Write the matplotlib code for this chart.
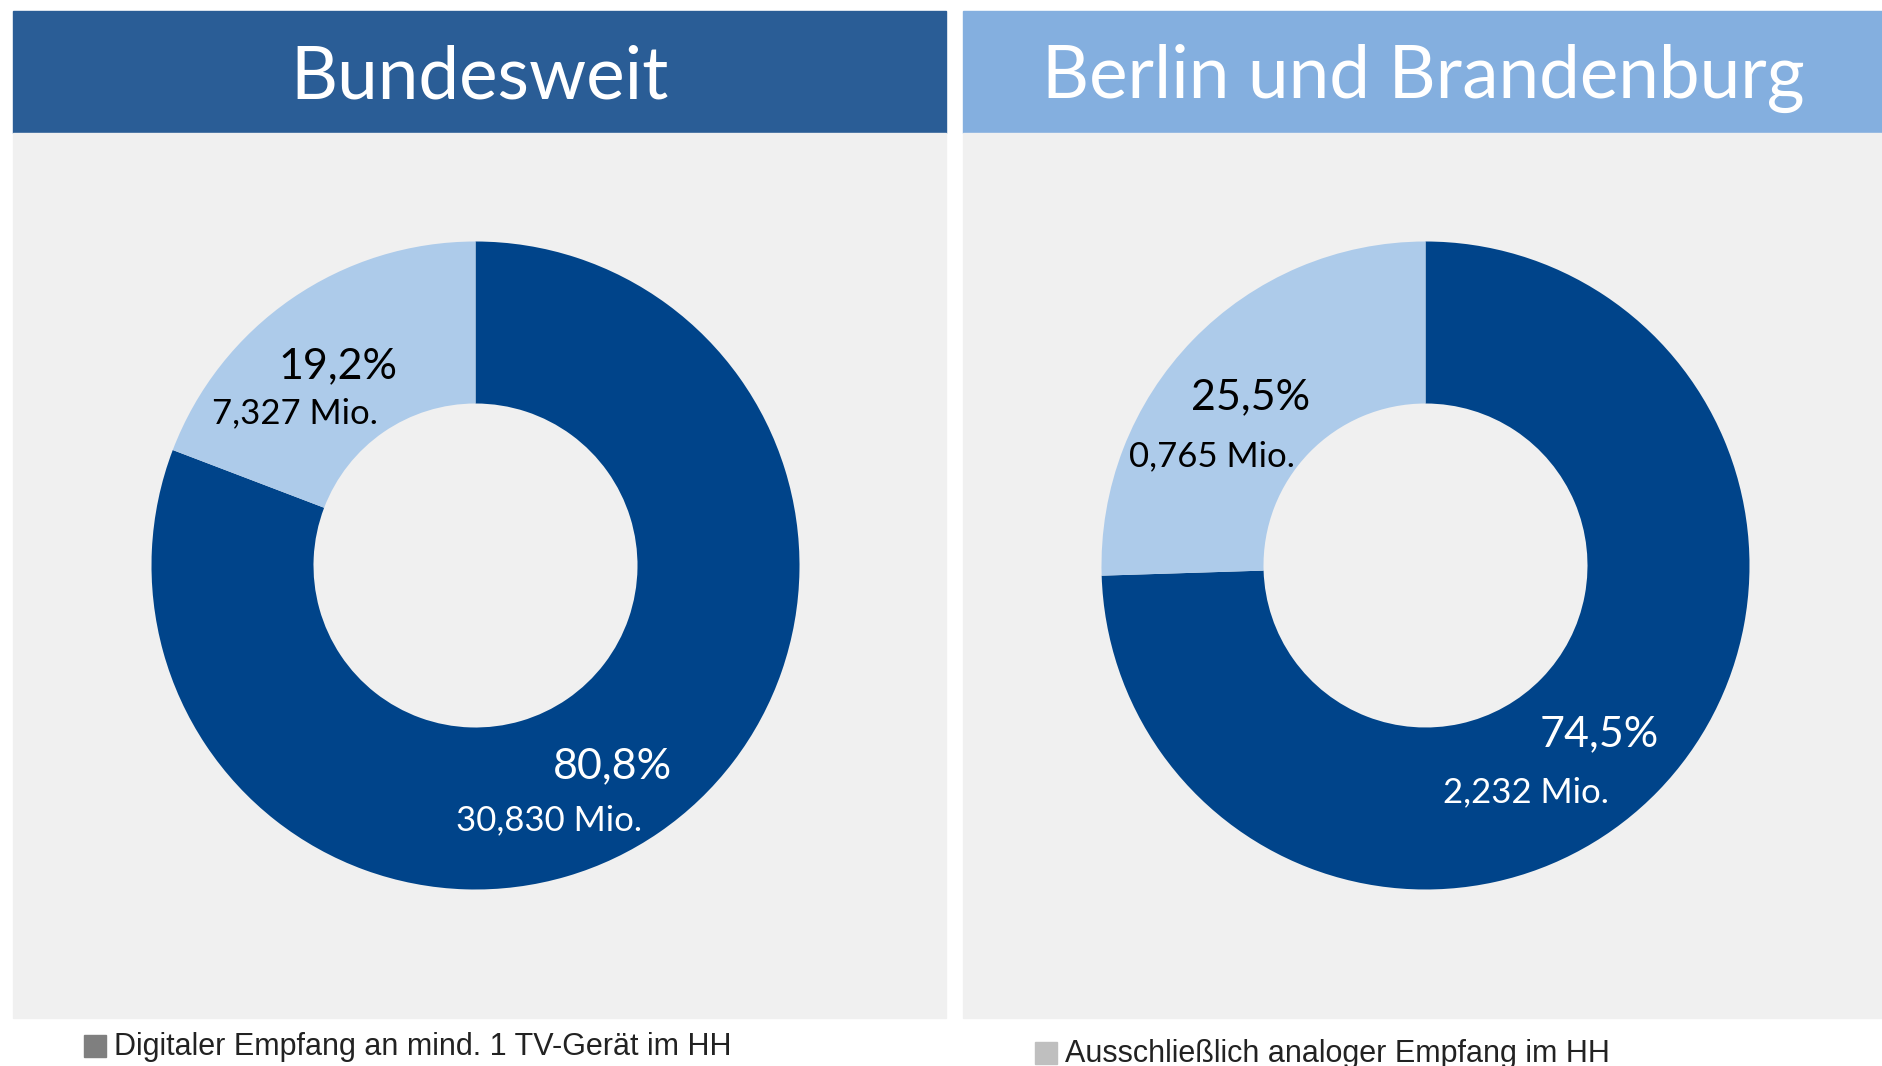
import matplotlib.pyplot as plt
from matplotlib.patches import Rectangle

# data
regions = ["Bundesweit", "Berlin und Brandenburg"]
digital_pct = [80.8, 74.5]
analog_pct = [19.2, 25.5]
digital_mio = [30.830, 2.232]
analog_mio = [7.327, 0.765]
legend_labels = ["Digitaler Empfang an mind. 1 TV-Gerät im HH",
                 "Ausschließlich analoger Empfang im HH"]

DARK = "#00448A"
LIGHT = "#ADCBEA"
HEADER = ["#2A5D96", "#84AFDF"]
PANEL_BG = "#F0F0F0"
TITLE_FONT = ["Lato", "DejaVu Sans"]
LEGEND_FONT = ["Liberation Sans Narrow", "Liberation Sans", "DejaVu Sans"]

W, H = 1883, 1066
fig = plt.figure(figsize=(W / 100, H / 100), dpi=100)
fig.patch.set_facecolor("white")


def fbox(x0, y0, x1, y1):
    # pixel box (top-left origin) -> figure fraction [left, bottom, width, height]
    return [x0 / W, 1 - y1 / H, (x1 - x0) / W, (y1 - y0) / H]


def de(v, nd=1):
    return f"{v:.{nd}f}".replace(".", ",")


panels = [(13, 946), (963, 1883)]
centers = [(475.5, 565.5), (1425.5, 565.5)]
radius = 324

# label offsets inside the donut (relative to radius)
pct_pos = [[(-0.426, 0.615), (0.422, -0.619)], [(-0.541, 0.519), (0.537, -0.522)]]
mio_pos = [[(-0.556, 0.470), (0.226, -0.785)], [(-0.659, 0.337), (0.311, -0.700)]]

for i, name in enumerate(regions):
    x0, x1 = panels[i]
    l, b, w, h = fbox(x0, 11, x1, 133)
    fig.patches.append(Rectangle((l, b), w, h, transform=fig.transFigure,
                                 color=HEADER[i], zorder=-2))
    fig.text(l + w / 2, b + h / 2 - 0.006, name, ha="center", va="center",
             color="white", fontsize=52.5, family=TITLE_FONT)
    l, b, w, h = fbox(x0, 133, x1, 1018)
    fig.patches.append(Rectangle((l, b), w, h, transform=fig.transFigure,
                                 color=PANEL_BG, zorder=-2))

    cx, cy = centers[i]
    ax = fig.add_axes(fbox(cx - radius, cy - radius, cx + radius, cy + radius))
    ax.set_facecolor("none")
    ax.pie([digital_pct[i], analog_pct[i]], colors=[DARK, LIGHT],
           startangle=90, counterclock=False, radius=1,
           wedgeprops=dict(width=0.5, linewidth=0))
    ax.set_xlim(-1, 1)
    ax.set_ylim(-1, 1)
    ax.set_aspect("equal")
    ax.axis("off")

    # analog (light) labels
    (px, py), (mx, my) = pct_pos[i][0], mio_pos[i][0]
    ax.text(px, py, de(analog_pct[i]) + "%", ha="center", va="center",
            fontsize=31, color="black", family=TITLE_FONT)
    ax.text(mx, my, de(analog_mio[i], 3) + " Mio.", ha="center", va="center",
            fontsize=25, color="black", family=TITLE_FONT)
    # digital (dark) labels
    (px, py), (mx, my) = pct_pos[i][1], mio_pos[i][1]
    ax.text(px, py, de(digital_pct[i]) + "%", ha="center", va="center",
            fontsize=31, color="white", family=TITLE_FONT)
    ax.text(mx, my, de(digital_mio[i], 3) + " Mio.", ha="center", va="center",
            fontsize=25, color="white", family=TITLE_FONT)

# legend entries
legend_sq = [("#7F7F7F", 84, 1035), ("#BFBFBF", 1035, 1042)]
for (col, sx, sy), lab in zip(legend_sq, legend_labels):
    l, b, w, h = fbox(sx, sy, sx + 22, sy + 22)
    fig.patches.append(Rectangle((l, b), w, h, transform=fig.transFigure,
                                 color=col, zorder=1))
    fig.text((sx + 30) / W, 1 - (sy + 12) / H, lab, ha="left", va="center",
             fontsize=22, color="#222222", family=LEGEND_FONT)

fig.savefig("out.png", dpi=100)
